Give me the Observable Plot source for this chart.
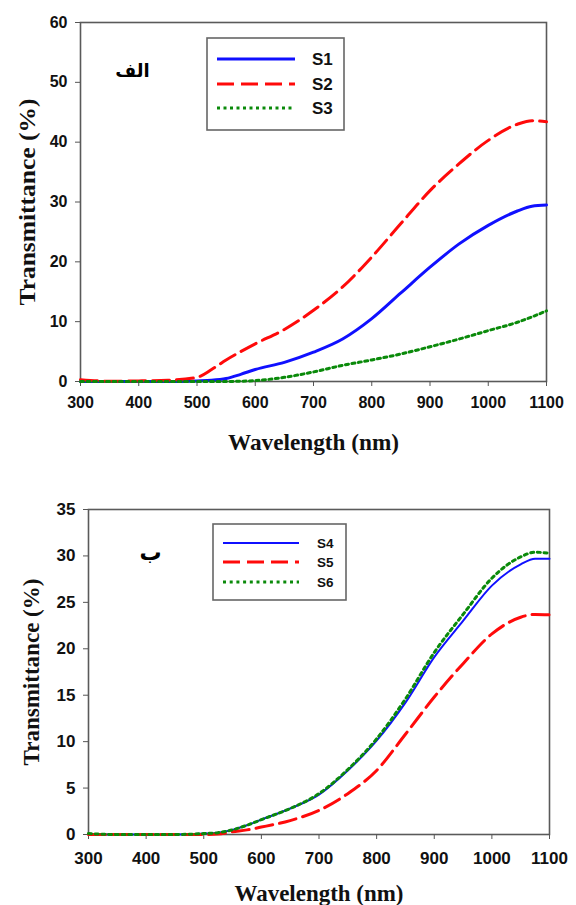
<!DOCTYPE html>
<html>
<head>
<meta charset="utf-8">
<script src="https://cdn.jsdelivr.net/npm/d3@7"></script>
<script src="https://cdn.jsdelivr.net/npm/@observablehq/plot@0.6"></script>
<style>
  html, body { margin: 0; padding: 0; background: #fff; }
  #page { position: relative; width: 576px; height: 905px; overflow: hidden; }
  .panel { position: absolute; left: 0; }
  .legend { position: absolute; }
</style>
</head>
<body>
<div id="page"></div>
<script>
// ---- data ----
const wavelength = [300, 350, 400, 450, 500, 525, 550, 575, 600, 650, 700, 750, 800, 850, 900, 950, 1000, 1050, 1075, 1100];

// panel (الف)
const S1 = [0, 0, 0, 0, 0.1, 0.2, 0.5, 1.2, 2.0, 3.2, 4.9, 7.1, 10.5, 14.8, 19.1, 23.0, 26.1, 28.5, 29.3, 29.5];
const S2 = [0.3, 0.05, 0.1, 0.2, 0.7, 2.0, 3.6, 5.0, 6.3, 8.7, 11.9, 15.8, 20.8, 26.4, 31.9, 36.4, 40.3, 43.0, 43.6, 43.4];
const S3 = [0, 0, 0, 0, 0, 0, 0, 0.05, 0.15, 0.7, 1.6, 2.7, 3.6, 4.6, 5.8, 7.1, 8.5, 9.9, 10.8, 11.8];

// panel (ب)
const S4 = [0, 0, 0, 0, 0.1, 0.2, 0.5, 1.0, 1.6, 2.8, 4.3, 6.9, 10.1, 14.2, 19.1, 23.0, 26.8, 29.1, 29.7, 29.7];
const S5 = [0, 0, 0, 0, 0, 0.05, 0.3, 0.5, 0.8, 1.5, 2.6, 4.4, 6.9, 10.8, 14.8, 18.4, 21.6, 23.4, 23.7, 23.65];
const S6 = [0.1, 0, 0, 0, 0.1, 0.2, 0.5, 1.0, 1.6, 2.8, 4.4, 7.0, 10.3, 14.6, 19.6, 23.7, 27.6, 29.9, 30.4, 30.3];

const xTicks = [300, 400, 500, 600, 700, 800, 900, 1000, 1100];
const yTicksA = [0, 10, 20, 30, 40, 50, 60];
const yTicksB = [0, 5, 10, 15, 20, 25, 30, 35];

const xTitle = "Wavelength (nm)";
const yTitle = "Transmittance (%)";
const panelLabelA = "الف";
const panelLabelB = "ب";

const seriesA = [
  {name: "S1", values: S1, color: "#1010ff", dash: null},
  {name: "S2", values: S2, color: "#ff0a0a", dash: "17,7"},
  {name: "S3", values: S3, color: "#0a8a0a", dash: "3,3.5"}
];
const seriesB = [
  {name: "S4", values: S4, color: "#1010ff", dash: null},
  {name: "S5", values: S5, color: "#ff0a0a", dash: "17,7"},
  {name: "S6", values: S6, color: "#0a8a0a", dash: "3,3.7"}
];

function rows(values) { return wavelength.map((w, i) => ({w, t: values[i]})); }

function makePanel(cfg) {
  const serif = "Liberation Serif, Times New Roman, serif";
  const marks = [
    Plot.frame({stroke: "#5a5a5a", strokeWidth: 1.6}),
    Plot.axisX({ticks: xTicks, tickSize: 5, tickPadding: cfg.xPad, fontSize: cfg.tickFont, label: null, stroke: "#555", tickFormat: d => String(d)}),
    Plot.axisY({ticks: cfg.yTicks, tickSize: 5, tickPadding: 8, fontSize: cfg.tickFont, label: null, stroke: "#555", tickFormat: d => String(d)}),
    ...cfg.series.map(s => Plot.line(rows(s.values), {
      x: "w", y: "t", stroke: s.color, strokeWidth: cfg.widths[s.name],
      strokeDasharray: s.dash, curve: "monotone-x"
    })),
    Plot.text([xTitle], {text: d => d, frameAnchor: "bottom", textAnchor: "middle", lineAnchor: "middle", dy: cfg.xTitleDy, fontSize: cfg.titleFont, fontFamily: serif, fontWeight: "bold", fill: "#111"}),
    Plot.text([yTitle], {text: d => d, frameAnchor: "left", textAnchor: "middle", lineAnchor: "middle", rotate: -90, dx: cfg.yTitleDx, fontSize: cfg.titleFont, fontFamily: serif, fontWeight: "bold", fill: "#111"}),
    Plot.text([cfg.panelLabel], {text: d => d, frameAnchor: "top-left", textAnchor: "middle", lineAnchor: "middle", dx: cfg.pdx, dy: cfg.pdy, fontSize: cfg.panelFont, fontFamily: "DejaVu Sans, sans-serif", fontWeight: "bold", fill: "#000"})
  ];
  const chart = Plot.plot({
    width: 576, height: cfg.height,
    marginLeft: cfg.ml, marginRight: cfg.mr, marginTop: cfg.mt, marginBottom: cfg.mb,
    x: {domain: [300, 1100]},
    y: {domain: cfg.yDomain},
    style: {fontFamily: "Liberation Sans, Arial, sans-serif", fontWeight: "bold", color: "#111", background: "transparent", overflow: "visible"},
    marks
  });
  chart.querySelectorAll("text").forEach(t => {
    if (t.textContent === yTitle) { t.setAttribute("textLength", cfg.yLen); t.setAttribute("lengthAdjust", "spacingAndGlyphs"); }
    if (t.textContent === xTitle) { t.setAttribute("textLength", cfg.xLen); t.setAttribute("lengthAdjust", "spacingAndGlyphs"); }
  });
  const div = document.createElement("div");
  div.className = "panel";
  div.style.top = cfg.top + "px";
  div.appendChild(chart);
  document.getElementById("page").appendChild(div);
}

function makeLegend(series, cfg) {
  const div = d3.select("#page").append("div").attr("class", "legend")
    .style("left", cfg.left + "px").style("top", cfg.top + "px");
  const svg = div.append("svg").attr("width", cfg.w + 4).attr("height", cfg.h + 4);
  svg.append("rect").attr("x", 1).attr("y", 1).attr("width", cfg.w).attr("height", cfg.h)
    .attr("fill", "#fff").attr("stroke", "#666").attr("stroke-width", 1.6);
  series.forEach((s, i) => {
    const y = cfg.rowY[i];
    svg.append("line").attr("x1", cfg.x1).attr("x2", cfg.x2).attr("y1", y).attr("y2", y)
      .attr("stroke", s.color).attr("stroke-width", cfg.widths[s.name])
      .attr("stroke-dasharray", s.dash);
    svg.append("text").attr("x", cfg.tx).attr("y", y).attr("dy", "0.36em")
      .attr("font-family", "Liberation Sans, Arial, sans-serif").attr("font-weight", "bold")
      .attr("font-size", cfg.font).attr("fill", "#111").text(s.name);
  });
}

const widthsA = {S1: 3, S2: 3, S3: 3};
const widthsB = {S4: 2, S5: 3, S6: 3};

makePanel({
  top: 0, height: 460, ml: 80, mr: 30, mt: 22, mb: 79,
  yDomain: [0, 60], yTicks: yTicksA, series: seriesA, widths: widthsA,
  tickFont: 16, xPad: 10, titleFont: 24, xTitleDy: 61, yTitleDx: -53,
  xLen: 171, yLen: 207,
  panelLabel: panelLabelA, pdx: 52, pdy: 49, panelFont: 18
});
makePanel({
  top: 460, height: 445, ml: 88, mr: 27, mt: 49, mb: 71,
  yDomain: [0, 35], yTicks: yTicksB, series: seriesB, widths: widthsB,
  tickFont: 17, xPad: 12, titleFont: 23, xTitleDy: 59, yTitleDx: -57,
  xLen: 169, yLen: 187,
  panelLabel: panelLabelB, pdx: 62, pdy: 43, panelFont: 22
});

makeLegend(seriesA, {left: 206, top: 37, w: 137, h: 92, rowY: [22, 47, 71], x1: 11, x2: 89, tx: 106, font: 17, widths: widthsA});
makeLegend(seriesB, {left: 212, top: 523, w: 133, h: 76, rowY: [20, 39, 59], x1: 11, x2: 87, tx: 105, font: 13.5, widths: widthsB});
</script>
</body>
</html>
